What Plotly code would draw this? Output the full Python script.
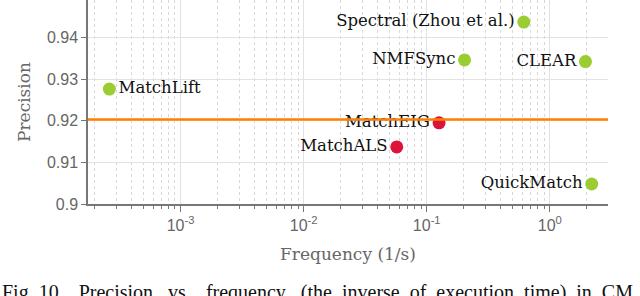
import plotly.graph_objects as go

methods = ["MatchLift", "Spectral (Zhou et al.)", "NMFSync", "CLEAR", "MatchEIG", "MatchALS", "QuickMatch"]
frequency = [2.64e-4, 0.615, 0.203, 1.95, 0.126, 0.0571, 2.19]
precision = [0.9276, 0.9437, 0.9346, 0.9342, 0.9195, 0.9137, 0.9048]
groups = ["green", "green", "green", "green", "red", "red", "green"]
text_pos = ["middle right", "middle left", "middle left", "middle left", "middle left", "middle left", "middle left"]
baseline_precision = 0.9203

x_tickvals = [1e-3, 1e-2, 1e-1, 1]
x_ticktext = ["10<sup>-3</sup>", "10<sup>-2</sup>", "10<sup>-1</sup>", "10<sup>0</sup>"]
y_tickvals = [0.9, 0.91, 0.92, 0.93, 0.94]
y_ticktext = ["0.9", "0.91", "0.92", "0.93", "0.94"]

color_map = {"green": "#9acd32", "red": "#dc143c"}

minor_vals = [m * 10 ** e for e in range(-4, 1) for m in range(2, 10)]

fig = go.Figure()
fig.add_shape(type="line", xref="paper", x0=0, x1=1, yref="y",
              y0=baseline_precision, y1=baseline_precision,
              line=dict(color="#ff8000", width=2.5), layer="above")
fig.add_trace(go.Scatter(
    x=frequency, y=precision, mode="markers+text",
    text=methods,
    textposition=text_pos,
    textfont=dict(family="DejaVu Serif", size=16.5, color="#111"),
    marker=dict(size=13, color=[color_map[g] for g in groups]),
    cliponaxis=False, showlegend=False,
))

fig.update_layout(
    width=640, height=296,
    margin=dict(l=88, r=32, t=0, b=92),
    paper_bgcolor="white", plot_bgcolor="white",
    font=dict(family="Liberation Sans", color="#666"),
)
fig.update_xaxes(
    type="log", range=[-3.752, 0.473], automargin=False,
    tickmode="array", tickvals=x_tickvals, ticktext=x_ticktext,
    tickfont=dict(family="Liberation Sans", size=16, color="#666"),
    showgrid=True, gridcolor="#e2e2e2", gridwidth=1,
    showline=True, linecolor="#777", linewidth=1.5,
    ticks="outside", ticklen=6, tickcolor="#777", tickwidth=1.2,
    minor=dict(tickmode="array", tickvals=minor_vals, ticks="outside", ticklen=3,
               tickcolor="#777", showgrid=True, gridcolor="#d8d8d8", griddash="dot", gridwidth=1),
    title=dict(text="Frequency (1/s)", font=dict(family="DejaVu Serif", size=17, color="#666"), standoff=15),
    zeroline=False,
)
fig.update_yaxes(
    range=[0.9, 0.949], automargin=False,
    tickmode="array", tickvals=y_tickvals, ticktext=y_ticktext,
    tickfont=dict(family="Liberation Sans", size=16, color="#666"),
    showgrid=True, gridcolor="#e2e2e2", gridwidth=1,
    showline=True, linecolor="#777", linewidth=1.5,
    ticks="outside", ticklen=5, tickcolor="#777", tickwidth=1.2,
    title=dict(text="Precision", font=dict(family="DejaVu Serif", size=17, color="#666"), standoff=12),
    zeroline=False,
)
fig.add_annotation(
    xref="paper", yref="paper", x=-88 / 520, y=(204 - 279) / 204,
    xanchor="left", yanchor="top", showarrow=False,
    text="Fig. 10.&nbsp;&nbsp; Precision&nbsp;&nbsp; vs.&nbsp;&nbsp; frequency&nbsp;&nbsp; (the&nbsp; inverse&nbsp; of&nbsp; execution&nbsp; time)&nbsp; in&nbsp; CM",
    font=dict(family="Liberation Serif", size=20, color="#111"),
)

fig.write_html(
    "out.html",
    config={"displayModeBar": False},
    post_script="document.body.style.margin='0';document.body.style.overflow='hidden';",
)
